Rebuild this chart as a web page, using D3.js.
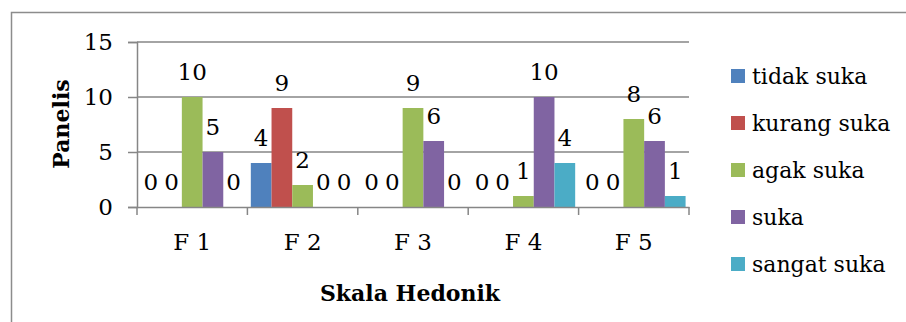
<!DOCTYPE html>
<html>
<head>
<meta charset="utf-8">
<script src="https://cdn.jsdelivr.net/npm/d3@7"></script>
<style>
  html, body { margin: 0; padding: 0; background: #fff; }
  svg { display: block; }
  text { font-family: "DejaVu Serif", serif; fill: #000; }
</style>
</head>
<body>
<svg id="chart" width="906" height="322"></svg>
<script>
// Hedonic scale results per formula (number of panelists per rating)
const formulas = ["F 1", "F 2", "F 3", "F 4", "F 5"];
const ratings = ["tidak suka", "kurang suka", "agak suka", "suka", "sangat suka"];
const tidakSuka  = [0, 4, 0, 0, 0];
const kurangSuka = [0, 9, 0, 0, 0];
const agakSuka   = [10, 2, 9, 1, 8];
const suka       = [5, 0, 6, 10, 6];
const sangatSuka = [0, 0, 0, 4, 1];
const yTicks = [0, 5, 10, 15];
const colors = ["#4F81BD", "#C0504D", "#9BBB59", "#8064A2", "#4BACC6"];

const seriesValues = [tidakSuka, kurangSuka, agakSuka, suka, sangatSuka];

const svg = d3.select("#chart");
const plot = { left: 137, right: 689, top: 42, bottom: 207 };

// frame around the chart (top and left edges visible)
svg.append("path")
  .attr("d", "M11.5,322 L11.5,12.5 L906,12.5")
  .attr("fill", "none").attr("stroke", "#8c8c8c").attr("stroke-width", 1.5);

const x0 = d3.scaleBand().domain(formulas).range([plot.left, plot.right]).paddingInner(0).paddingOuter(0);
const x1 = d3.scaleBand().domain(ratings).range([0, x0.bandwidth()]).paddingInner(0).paddingOuter(0.165);
const y = d3.scaleLinear().domain([0, 15]).range([plot.bottom, plot.top]);

// horizontal gridlines
svg.append("g").selectAll("line").data(yTicks.filter(d => d > 0)).join("line")
  .attr("x1", plot.left).attr("x2", plot.right)
  .attr("y1", d => y(d)).attr("y2", d => y(d))
  .attr("stroke", "#868686").attr("stroke-width", 1.5);

// y axis
const yAxis = svg.append("g").attr("transform", `translate(${plot.left},0)`)
  .call(d3.axisLeft(y).tickValues(yTicks).tickSize(9).tickPadding(15));
yAxis.select(".domain").attr("stroke", "#868686").attr("stroke-width", 1.5);
yAxis.selectAll(".tick line").attr("stroke", "#868686").attr("stroke-width", 1.5);
yAxis.selectAll(".tick text").attr("font-size", 23).attr("font-family", "DejaVu Serif").attr("fill", "#000");

// bars
const groups = svg.append("g").selectAll("g").data(formulas).join("g")
  .attr("transform", d => `translate(${x0(d)},0)`);

groups.selectAll("rect")
  .data((f, i) => ratings.map((r, j) => ({ r, j, v: seriesValues[j][i] })))
  .join("rect")
  .attr("x", d => x1(d.r))
  .attr("width", x1.bandwidth())
  .attr("y", d => y(d.v))
  .attr("height", d => y(0) - y(d.v))
  .attr("fill", d => colors[d.j]);

// value labels above each bar
groups.selectAll("text")
  .data((f, i) => ratings.map((r, j) => ({ r, j, v: seriesValues[j][i] })))
  .join("text")
  .attr("x", d => x1(d.r) + x1.bandwidth() / 2)
  .attr("y", d => y(d.v) - 17)
  .attr("text-anchor", "middle")
  .attr("font-size", 23)
  .text(d => d.v);

// x axis
const xAxis = svg.append("g").attr("transform", `translate(0,${plot.bottom})`)
  .call(d3.axisBottom(x0).tickSize(0).tickPadding(27));
xAxis.select(".domain").attr("stroke", "#868686").attr("stroke-width", 1.5);
xAxis.selectAll(".tick text").attr("font-size", 23).attr("font-family", "DejaVu Serif").attr("fill", "#000");
// category separator ticks
svg.append("g").selectAll("line")
  .data(formulas.map(f => x0(f)).concat([plot.right])).join("line")
  .attr("x1", d => d).attr("x2", d => d)
  .attr("y1", plot.bottom).attr("y2", plot.bottom + 8)
  .attr("stroke", "#868686").attr("stroke-width", 1.5);

// axis titles
svg.append("text")
  .attr("transform", "translate(69,124) rotate(-90)")
  .attr("text-anchor", "middle")
  .attr("font-size", 22).attr("font-weight", "bold")
  .text("Panelis");

svg.append("text")
  .attr("x", 410).attr("y", 301)
  .attr("text-anchor", "middle")
  .attr("font-size", 22).attr("font-weight", "bold")
  .text("Skala Hedonik");

// legend
const legend = svg.append("g").selectAll("g").data(ratings).join("g")
  .attr("transform", (d, i) => `translate(731,${76 + i * 47})`);
legend.append("rect")
  .attr("x", 0).attr("y", -7).attr("width", 14).attr("height", 14)
  .attr("fill", (d, i) => colors[i]);
legend.append("text")
  .attr("x", 21).attr("y", 8)
  .attr("font-size", 22)
  .text(d => d);
</script>
</body>
</html>
